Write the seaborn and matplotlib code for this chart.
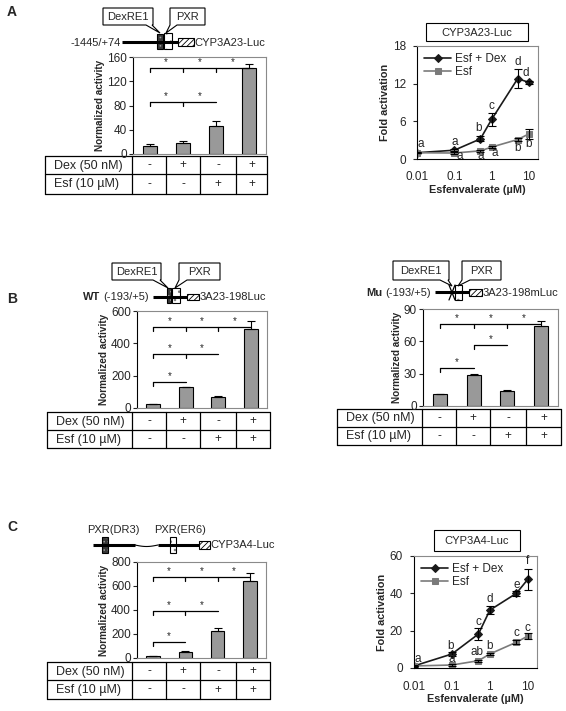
import matplotlib.pyplot as plt
import matplotlib.patches as mpatches
import numpy as np
import seaborn as sns

sns.set_style('ticks')
plt.rcParams['font.family'] = ['Liberation Sans', 'DejaVu Sans']
plt.rcParams['hatch.linewidth'] = 0.6

# treatment table (shared by all bar panels)
conditions = ['ctrl', 'Dex', 'Esf', 'Esf+Dex']
dex_row = ['-', '+', '-', '+']
esf_row = ['-', '-', '+', '+']

# bar panels: normalized activity
a_bar = [13, 17.5, 47, 142]
a_bar_err = [3.5, 4, 8, 6]
wt_bar = [22, 128, 70, 487]
wt_bar_err = [3, 3, 7, 53]
mu_bar = [10.8, 28.5, 13.5, 74.5]
mu_bar_err = [0.6, 1.6, 0.9, 4.5]
c_bar = [16, 48, 228, 642]
c_bar_err = [3, 8, 20, 69]

# significance brackets: (height, first bar, last bar, bars with a tick)
a_brackets = [(142, 0, 3, [0, 1, 2]), (85, 0, 2, [0, 1])]
wt_brackets = [(503, 0, 3, [0, 1, 2]), (334, 0, 2, [0, 1]), (163, 0, 1, [0])]
mu_brackets = [(76, 0, 3, [0, 1, 2]), (56.5, 1, 2, [1]), (35, 0, 1, [0])]
c_brackets = [(672, 0, 3, [0, 1, 2]), (394, 0, 2, [0, 1]), (131, 0, 1, [0])]

# dose response panels: fold activation
conc = [0.01, 0.1, 0.5, 1, 5, 10]
a_dex = [1.0, 1.4, 3.2, 6.3, 12.8, 12.2]
a_dex_err = [0.1, 0.2, 0.4, 1.0, 1.5, 0.3]
a_esf = [1.0, 0.95, 1.3, 1.9, 3.1, 4.0]
a_esf_err = [0.1, 0.1, 0.15, 0.15, 0.2, 0.8]
a_dex_letters = ['a', 'a', 'b', 'c', 'd', 'd']
a_esf_letters = ['', 'a', 'a', 'a', 'b', 'b']

c_dex = [1.1, 7.5, 18.2, 31, 40, 47.5]
c_dex_err = [0.3, 1.0, 3.0, 2.0, 1.5, 5.5]
c_esf = [1.1, 1.6, 3.9, 7.5, 13.8, 17.1]
c_esf_err = [0.2, 0.3, 0.5, 0.8, 1.2, 1.5]
c_dex_letters = ['a', 'b', 'c', 'd', 'e', 'f']
c_esf_letters = ['', 'a', 'ab', 'b', 'c', 'c']

# letter offsets in points (dx, dy)
a_dex_off = [(3, 6), (0, 6), (-1, 8), (0, 9.5), (0, 12), (-2, 7)]
a_esf_off = [(0, 0), (4, -2), (0, -4), (2, -4), (0, -6), (0, -7)]
c_dex_off = [(3, 5), (-1, 6), (0, 9), (0, 8), (0, 6), (0, 13)]
c_esf_off = [(0, 0), (0, 4), (-1, 6), (0, 6), (0, 6.5), (0, 6)]

W, H = 566, 711
fig = plt.figure(figsize=(W / 100, H / 100), dpi=100)


def frac(x0, y0, x1, y1):
    return [x0 / W, 1 - y1 / H, (x1 - x0) / W, (y1 - y0) / H]


ov = fig.add_axes([0, 0, 1, 1])
ov.set_xlim(0, W)
ov.set_ylim(H, 0)
ov.axis('off')


def rect(x0, y0, x1, y1, **kw):
    kw.setdefault('facecolor', 'white')
    kw.setdefault('edgecolor', 'black')
    kw.setdefault('lw', 0.8)
    ov.add_patch(mpatches.Rectangle((x0, y0), x1 - x0, y1 - y0, **kw))


def callout(x0, y0, x1, y1, text, xa, xb, tip):
    pts = [(x0, y0), (x1, y0), (x1, y1), (xb, y1), tip, (xa, y1), (x0, y1)]
    ov.add_patch(mpatches.Polygon(pts, closed=True, facecolor='white',
                                  edgecolor='black', lw=0.8, zorder=3))
    ov.text((x0 + x1) / 2, (y0 + y1) / 2 + 0.5, text, ha='center', va='center',
            fontsize=8, zorder=4)


def hline(x0, x1, y, lw=2.2):
    ov.plot([x0, x1], [y, y], color='black', lw=lw, solid_capstyle='butt')


def dark_box(x0, y0, x1, y1):
    rect(x0, y0, x1, y1, facecolor='#3a3a3a', edgecolor='#9a9a9a', hatch='....', lw=0)
    rect(x0, y0, x1, y1, facecolor='none', edgecolor='black', lw=0.8)


def dot_box(x0, y0, x1, y1):
    rect(x0, y0, x1, y1, facecolor='white', edgecolor='#777777', hatch='..', lw=0)
    rect(x0, y0, x1, y1, facecolor='none', edgecolor='black', lw=0.8)


def luc_box(x0, y0, x1, y1, label):
    rect(x0, y0, x1, y1, facecolor='white', hatch='//////', lw=0.8)
    ov.text(x1 + 0.5, (y0 + y1) / 2 + 0.5, label, ha='left', va='center', fontsize=8)


def table(cols, y0, y1, y2):
    for y in (y0, y1, y2):
        ov.plot([cols[0], cols[-1]], [y, y], color='black', lw=0.9)
    for x in cols:
        ov.plot([x, x], [y0, y2], color='black', lw=0.9)
    ov.text(cols[0] + 9, (y0 + y1) / 2 + 0.5, 'Dex (50 nM)', va='center', fontsize=9)
    ov.text(cols[0] + 9, (y1 + y2) / 2 + 0.5, 'Esf (10 µM)', va='center', fontsize=9)
    for i in range(4):
        xc = (cols[i + 1] + cols[i + 2]) / 2
        ov.text(xc, (y0 + y1) / 2, dex_row[i], ha='center', va='center', fontsize=8.5)
        ov.text(xc, (y1 + y2) / 2, esf_row[i], ha='center', va='center', fontsize=8.5)


def style_frame(ax):
    for s in ['top', 'right', 'bottom']:
        ax.spines[s].set_color('#8a8a8a')
        ax.spines[s].set_linewidth(0.8)
    ax.spines['left'].set_color('black')
    ax.spines['left'].set_linewidth(0.8)
    ax.tick_params(axis='both', labelsize=8.5, length=3, width=0.8, pad=1.5)


def bar_panel(r, vals, errs, ymax, yticks, brackets):
    ax = fig.add_axes(frac(*r))
    sns.barplot(x=conditions, y=vals, color='#999999', saturation=1, width=0.42,
                edgecolor='black', linewidth=0.8, errorbar=None, ax=ax)
    ax.errorbar(range(4), vals, yerr=[np.zeros(4), errs], fmt='none',
                ecolor='black', elinewidth=0.8, capsize=3, capthick=0.8)
    ax.set_xlim(-0.5, 3.5)
    ax.set_ylim(0, ymax)
    ax.set_yticks(yticks)
    ax.set_xticks([])
    ax.set_xlabel('')
    ax.set_ylabel('Normalized activity', fontsize=7.2, fontweight='bold', labelpad=1)
    style_frame(ax)
    for y, start, end, ticks in brackets:
        ax.plot([start, end], [y, y], color='black', lw=0.9)
        for t in ticks:
            ax.plot([t, t], [y, y - 0.04 * ymax], color='black', lw=0.9)
        pts = ticks + [end]
        for p, q in zip(pts[:-1], pts[1:]):
            ax.text((p + q) / 2, y + 0.01 * ymax, '*', ha='center', va='bottom',
                    fontsize=7)
    return ax


def fold_panel(r, dex, dex_err, esf, esf_err, ymax, yticks,
               dex_letters, esf_letters, dex_off, esf_off):
    ax = fig.add_axes(frac(*r))
    sns.lineplot(x=conc, y=dex, marker='D', markersize=4, color='#1a1a1a',
                 markeredgecolor='#1a1a1a', lw=1.2, label='Esf + Dex', ax=ax)
    sns.lineplot(x=conc, y=esf, marker='s', markersize=4, color='#7a7a7a',
                 markeredgecolor='#7a7a7a', lw=1.2, label='Esf', ax=ax)
    ax.errorbar(conc, dex, yerr=dex_err, fmt='none', ecolor='black',
                elinewidth=0.8, capsize=3, capthick=0.8)
    ax.errorbar(conc, esf, yerr=esf_err, fmt='none', ecolor='black',
                elinewidth=0.8, capsize=3, capthick=0.8)
    ax.set_xscale('log')
    ax.set_xlim(0.01, 17.5)
    ax.set_xticks([0.01, 0.1, 1, 10], labels=['0.01', '0.1', '1', '10'])
    ax.minorticks_off()
    ax.set_ylim(0, ymax)
    ax.set_yticks(yticks)
    ax.set_xlabel('Esfenvalerate (µM)', fontsize=7.8, fontweight='bold', labelpad=1)
    ax.set_ylabel('Fold activation', fontsize=7.8, fontweight='bold', labelpad=2)
    style_frame(ax)
    ax.tick_params(axis='x', pad=9, length=0)
    ax.tick_params(axis='y', pad=5)
    ax.spines['bottom'].set_color('black')
    for x, y, lab, off in zip(conc, dex, dex_letters, dex_off):
        ax.annotate(lab, (x, y), xytext=off, textcoords='offset points',
                    ha='center', va='center', fontsize=8.5)
    for x, y, lab, off in zip(conc, esf, esf_letters, esf_off):
        ax.annotate(lab, (x, y), xytext=off, textcoords='offset points',
                    ha='center', va='center', fontsize=8.5)
    ax.legend(loc='upper left', frameon=False, fontsize=8.5, handlelength=2.3,
              handletextpad=0.3, labelspacing=0.1, borderaxespad=0.4,
              borderpad=0.2)
    return ax


# ---- panel A ----
ov.text(12, 12, 'A', fontsize=10, fontweight='bold', ha='center', va='center')
ov.text(121, 42.5, '-1445/+74', ha='right', va='center', fontsize=8)
hline(122, 178, 42)
dark_box(157, 34, 163, 49)
dot_box(164, 33, 172, 49)
luc_box(178, 38, 194, 46, 'CYP3A23-Luc')
callout(103, 8, 153, 25, 'DexRE1', 146, 152, (160, 33))
callout(170, 8, 205, 25, 'PXR', 170, 177, (166, 33))
bar_panel((133, 57, 266, 154), a_bar, a_bar_err, 160, [0, 40, 80, 120, 160], a_brackets)
table([45, 132, 166, 200, 236, 267], 156, 174, 194)

rect(426, 23, 528, 41)
ov.text(477, 32.5, 'CYP3A23-Luc', ha='center', va='center', fontsize=8)
fold_panel((417, 46, 538, 159), a_dex, a_dex_err, a_esf, a_esf_err, 18,
           [0, 6, 12, 18], a_dex_letters, a_esf_letters, a_dex_off, a_esf_off)

# ---- panel B ----
ov.text(12, 299, 'B', fontsize=10, fontweight='bold', ha='center', va='center')
ov.text(83, 297.5, 'WT', ha='left', va='center', fontsize=8, fontweight='bold')
ov.text(103, 297.5, '(-193/+5)', ha='left', va='center', fontsize=8)
hline(153, 187, 297)
dark_box(167, 288, 171, 303)
dot_box(172, 288, 180, 303)
luc_box(187, 294, 199, 300, '3A23-198Luc')
callout(112, 263, 161, 280, 'DexRE1', 153, 160, (168, 288))
callout(179, 263, 220, 280, 'PXR', 179, 187, (175, 288))
bar_panel((137, 311, 267, 408), wt_bar, wt_bar_err, 600, [0, 200, 400, 600], wt_brackets)
table([47, 132, 166, 200, 236, 270], 412, 430, 448)

ov.text(366, 292.5, 'Mu', ha='left', va='center', fontsize=8, fontweight='bold')
ov.text(385, 292.5, '(-193/+5)', ha='left', va='center', fontsize=8)
hline(435, 469, 292)
ov.plot([449, 455], [285, 300], color='black', lw=0.9)
ov.plot([455, 449], [285, 300], color='black', lw=0.9)
dot_box(455, 285, 462, 300)
luc_box(469, 289, 482, 296, '3A23-198mLuc')
callout(393, 261, 449, 280, 'DexRE1', 440, 448, (452, 286))
callout(462, 261, 501, 280, 'PXR', 462, 470, (458, 286))
bar_panel((423, 309, 558, 406), mu_bar, mu_bar_err, 90, [0, 30, 60, 90], mu_brackets)
table([337, 422, 456, 490, 526, 561], 409, 427, 445)

# ---- panel C ----
ov.text(12, 527, 'C', fontsize=10, fontweight='bold', ha='center', va='center')
ov.text(113, 530, 'PXR(DR3)', ha='center', va='center', fontsize=8)
ov.text(180, 530, 'PXR(ER6)', ha='center', va='center', fontsize=8)
hline(93, 135, 545)
wave_x = np.linspace(135, 158, 30)
ov.plot(wave_x, 545 + 1.5 * np.sin((wave_x - 135) / 23 * np.pi), color='black', lw=0.8)
hline(158, 199, 545)
dark_box(102, 537, 108, 553)
dot_box(170, 537, 176, 553)
luc_box(199, 541, 210, 549, 'CYP3A4-Luc')
bar_panel((137, 562, 266, 658), c_bar, c_bar_err, 800, [0, 200, 400, 600, 800], c_brackets)
table([47, 132, 166, 200, 236, 270], 662, 680, 699)

rect(434, 530, 520, 551)
ov.text(477, 541, 'CYP3A4-Luc', ha='center', va='center', fontsize=8)
fold_panel((414, 556, 537, 668), c_dex, c_dex_err, c_esf, c_esf_err, 60,
           [0, 20, 40, 60], c_dex_letters, c_esf_letters, c_dex_off, c_esf_off)

fig.savefig('out.png', dpi=100)
